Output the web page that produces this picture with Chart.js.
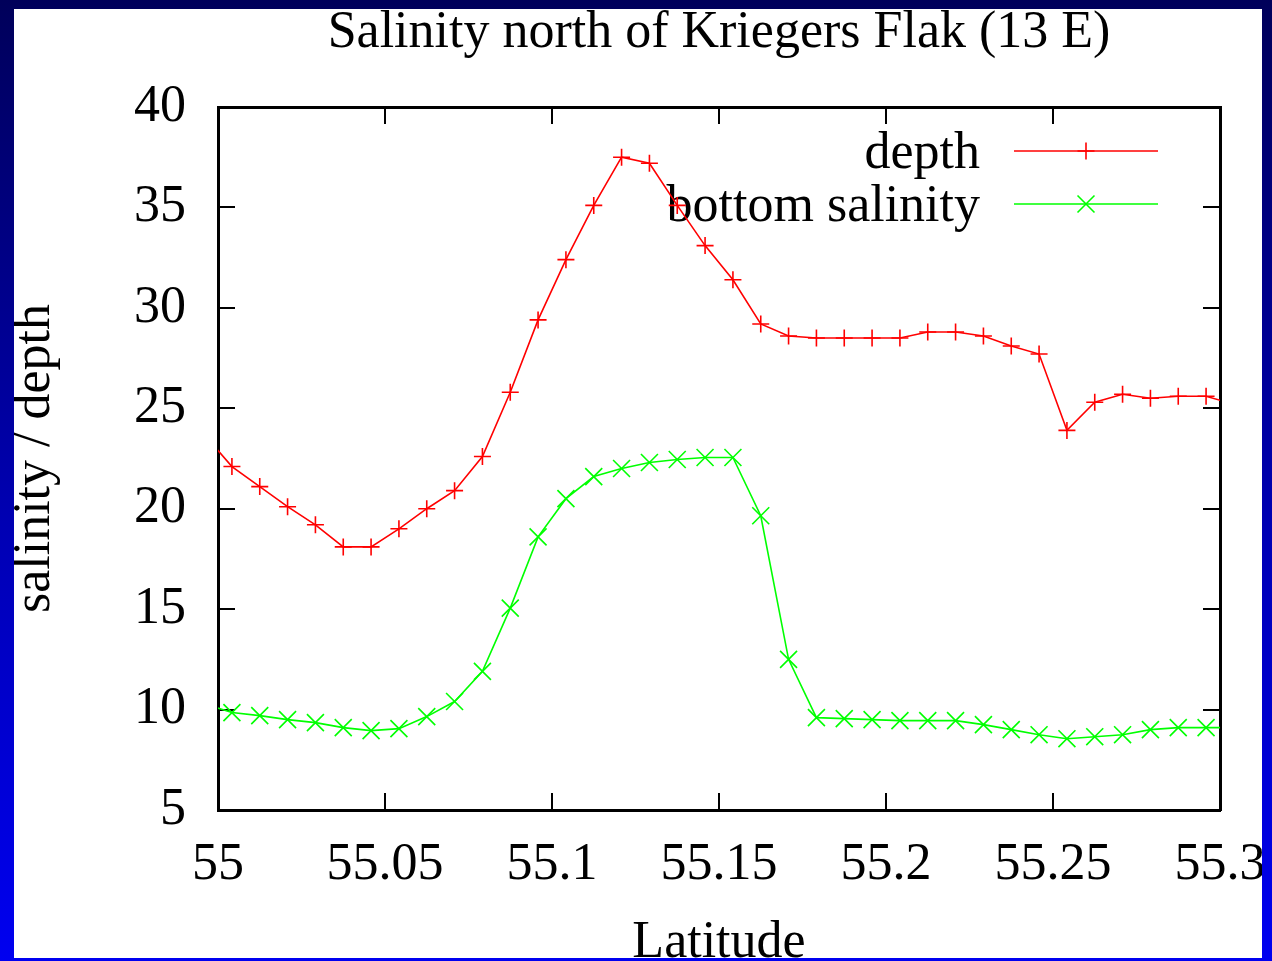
<!DOCTYPE html>
<html lang="en">

<head>
  <meta charset="utf-8">
  <title>Salinity north of Kriegers Flak (13 E)</title>
  <script src="https://cdn.jsdelivr.net/npm/chart.js@4.4.1/dist/chart.umd.min.js"></script>
  <style>
    html, body { margin: 0; padding: 0; }
    body {
      width: 1272px; height: 961px; overflow: hidden; position: relative;
      background: linear-gradient(to bottom, #00005a 0%, #0000b4 55%, #0000f0 100%);
    }
    .slide {
      position: absolute; left: 14px; top: 9px; width: 1248px; height: 949px;
      background: #fff; overflow: hidden;
    }
    #chart { position: absolute; left: -14px; top: -9px; }
  </style>
</head>

<body>
  <div class="slide">
    <canvas id="chart" width="1272" height="961"></canvas>
  </div>

  <script type="text/javascript">
    // latitude of each station (0.5' apart), first and last lie just outside the plotted range
    var latitude = [54.99583, 55.00417, 55.01250, 55.02083, 55.02917, 55.03750, 55.04583, 55.05417,
      55.06250, 55.07083, 55.07917, 55.08750, 55.09583, 55.10417, 55.11250, 55.12083, 55.12917,
      55.13750, 55.14583, 55.15417, 55.16250, 55.17083, 55.17917, 55.18750, 55.19583, 55.20417,
      55.21250, 55.22083, 55.22917, 55.23750, 55.24583, 55.25417, 55.26250, 55.27083, 55.27917,
      55.28750, 55.29583, 55.30417];
    var depth = [23.7, 22.1, 21.1, 20.1, 19.2, 18.1, 18.1, 19.0, 20.0, 20.9, 22.6, 25.8, 29.4,
      32.4, 35.1, 37.5, 37.2, 35.1, 33.1, 31.4, 29.2, 28.6, 28.5, 28.5, 28.5, 28.5, 28.8, 28.8,
      28.6, 28.1, 27.7, 23.9, 25.3, 25.7, 25.5, 25.6, 25.6, 25.2];
    var bottomSalinity = [10.3, 9.85, 9.7, 9.5, 9.35, 9.1, 8.95, 9.05, 9.65, 10.4, 11.9, 15.05,
      18.6, 20.5, 21.6, 22.0, 22.3, 22.45, 22.55, 22.55, 19.65, 12.5, 9.6, 9.55, 9.5, 9.45, 9.45,
      9.45, 9.25, 9.0, 8.75, 8.55, 8.65, 8.75, 9.0, 9.1, 9.1, 9.1];
    var seriesNames = ['depth', 'bottom salinity'];
    var xRange = [55, 55.3], xStep = 0.05;
    var yRange = [5, 40], yStep = 5;

    var serif = '"Liberation Serif", "Times New Roman", serif';
    var bigFont = { family: serif, size: 52, weight: 'normal' };

    function pairs(ys) {
      return latitude.map(function (x, i) { return { x: x, y: ys[i] }; });
    }

    // fixed box size, and no extra room for labels that stick out past the plot
    function fixSize(prop, size) {
      return function (s) {
        s[prop] = size;
        s.paddingLeft = s.paddingRight = s.paddingTop = s.paddingBottom = 0;
      };
    }

    function frameAxis(extra) {
      var a = {
        type: 'linear',
        border: { display: true, color: '#000', width: 3 },
        grid: { drawOnChartArea: false, drawTicks: true, tickLength: -17, color: '#000', lineWidth: 2 }
      };
      for (var k in extra) a[k] = extra[k];
      return a;
    }

    // gnuplot style key, drawn inside the plot, text left of the sample
    var keyPlugin = {
      id: 'gnuplotKey',
      beforeDatasetsDraw: function (chart) {
        var ctx = chart.ctx, area = chart.chartArea;
        var textRight = area.right - 240, lineL = area.right - 206, lineR = area.right - 62;
        chart.data.datasets.forEach(function (ds, i) {
          var y = area.top + 44 + i * 53;
          ctx.save();
          ctx.font = '52px ' + serif;
          ctx.fillStyle = '#000';
          ctx.textAlign = 'right';
          ctx.textBaseline = 'alphabetic';
          ctx.fillText(ds.label, textRight, y + 17);
          ctx.strokeStyle = ds.borderColor;
          ctx.lineWidth = ds.borderWidth;
          ctx.beginPath();
          ctx.moveTo(lineL, y);
          ctx.lineTo(lineR, y);
          ctx.stroke();
          ctx.lineWidth = ds.pointBorderWidth;
          Chart.helpers.drawPoint(ctx, {
            pointStyle: ds.pointStyle, radius: ds.pointRadius, borderWidth: ds.pointBorderWidth, rotation: 0
          }, (lineL + lineR) / 2, y);
          ctx.restore();
        });
      }
    };

    new Chart(document.getElementById('chart').getContext('2d'), {
      type: 'line',
      data: {
        datasets: [
          {
            label: seriesNames[0],
            data: pairs(depth),
            borderColor: '#ff0000',
            backgroundColor: '#ff0000',
            borderWidth: 1.6,
            pointStyle: 'cross',
            pointRadius: 8.5,
            pointBorderWidth: 1.6,
            pointBorderColor: '#ff0000',
            tension: 0,
            fill: false
          },
          {
            label: seriesNames[1],
            data: pairs(bottomSalinity),
            borderColor: '#00ff00',
            backgroundColor: '#00ff00',
            borderWidth: 1.6,
            pointStyle: 'crossRot',
            pointRadius: 12,
            pointBorderWidth: 1.6,
            pointBorderColor: '#00ff00',
            tension: 0,
            fill: false
          }
        ]
      },
      options: {
        responsive: false,
        animation: false,
        devicePixelRatio: 1,
        layout: { padding: 0, autoPadding: false },
        plugins: { legend: { display: false }, tooltip: { enabled: false } },
        scales: {
          x: frameAxis({
            position: 'bottom',
            min: xRange[0], max: xRange[1],
            ticks: {
              stepSize: xStep, padding: 41, color: '#000', font: bigFont, maxRotation: 0,
              callback: function (v) { return String(Math.round(v * 100) / 100); }
            },
            title: { display: true, text: 'Latitude', color: '#000', font: bigFont, padding: { top: 0, bottom: -14 } },
            afterFit: fixSize('height', 151)
          }),
          x2: frameAxis({
            position: 'top',
            min: xRange[0], max: xRange[1],
            ticks: { stepSize: xStep, display: false },
            title: { display: true, text: 'Salinity north of Kriegers Flak (13 E)', color: '#000', font: bigFont, padding: { top: 2, bottom: 0 } },
            afterFit: fixSize('height', 107)
          }),
          y: frameAxis({
            position: 'left',
            min: yRange[0], max: yRange[1],
            ticks: { stepSize: yStep, padding: 49, color: '#000', font: bigFont },
            title: { display: true, text: 'salinity / depth', color: '#000', font: bigFont, padding: { top: 4, bottom: 0 } },
            afterFit: fixSize('width', 218)
          }),
          y2: frameAxis({
            position: 'right',
            min: yRange[0], max: yRange[1],
            ticks: { stepSize: yStep, display: false },
            afterFit: fixSize('width', 52)
          })
        }
      },
      plugins: [keyPlugin]
    });
  </script>
</body>

</html>
